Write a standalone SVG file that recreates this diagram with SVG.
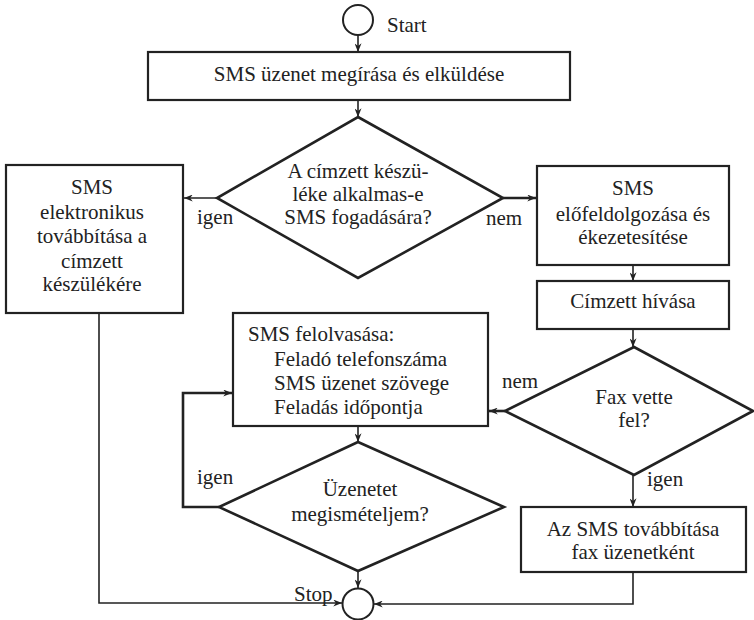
<svg xmlns="http://www.w3.org/2000/svg" width="754" height="620" viewBox="0 0 754 620">
<style>
  .box { fill: #fff; stroke: #222; stroke-width: 2.2; }
  .dia { fill: #fff; stroke: #222; stroke-width: 2.6; }
  .term { fill: #fff; stroke: #222; stroke-width: 2; }
  .t { font-family: "Liberation Serif", "Times New Roman", serif; font-size: 21px; fill: #222; }
  .c { text-anchor: middle; }
  .ln { fill: none; stroke: #222; stroke-width: 1.6; }
  .lnb { fill: none; stroke: #222; stroke-width: 2.6; }
</style>
<defs>
  <marker id="ah" viewBox="0 0 10 8" refX="10" refY="4" markerWidth="9" markerHeight="7" markerUnits="userSpaceOnUse" orient="auto">
    <path d="M0,0 L10,4 L0,8 L3,4 Z" fill="#222"/>
  </marker>
</defs>
<rect width="754" height="620" fill="#fff"/>

<g id="connectors">
  <line class="ln" x1="358" y1="35" x2="358" y2="52" marker-end="url(#ah)"/>
  <line class="ln" x1="358" y1="100" x2="358" y2="117" marker-end="url(#ah)"/>
  <line class="ln" x1="217" y1="198" x2="184" y2="198" marker-end="url(#ah)"/>
  <line class="lnb" x1="503" y1="198" x2="536" y2="198" marker-end="url(#ah)"/>
  <line class="ln" x1="633" y1="265" x2="633" y2="281" marker-end="url(#ah)"/>
  <line class="ln" x1="633" y1="329" x2="633" y2="347" marker-end="url(#ah)"/>
  <line class="lnb" x1="505" y1="411" x2="489" y2="411" marker-end="url(#ah)"/>
  <line class="ln" x1="633" y1="475" x2="633" y2="507" marker-end="url(#ah)"/>
  <line class="ln" x1="358" y1="426" x2="358" y2="442" marker-end="url(#ah)"/>
  <polyline class="lnb" points="219,507 183,507 183,393 232,393" marker-end="url(#ah)"/>
  <line class="ln" x1="358" y1="571" x2="358" y2="588" marker-end="url(#ah)"/>
  <polyline class="ln" points="99,297 99,603 342,603" marker-end="url(#ah)"/>
  <polyline class="ln" points="633,572 633,604 374,604" marker-end="url(#ah)"/>
  <text class="t" x="197" y="224">igen</text>
  <text class="t" x="486" y="225">nem</text>
  <text class="t" x="502" y="388">nem</text>
  <text class="t" x="647" y="486">igen</text>
  <text class="t" x="197" y="484">igen</text>
</g>

<g id="start">
  <circle class="term" cx="358" cy="20" r="15"/>
  <text class="t" x="387" y="32">Start</text>
</g>

<g id="write">
  <rect class="box" x="148" y="52" width="422" height="48"/>
  <text class="t c" x="359" y="81">SMS üzenet megírása és elküldése</text>
</g>

<g id="decision1">
  <polygon class="dia" points="358,117 503,198 358,278 217,198"/>
  <text class="t c" x="358" y="178">A címzett készü-</text>
  <text class="t c" x="358" y="201">léke alkalmas-e</text>
  <text class="t c" x="358" y="224">SMS fogadására?</text>
</g>

<g id="electronic">
  <rect class="box" x="6" y="165" width="177" height="148"/>
  <text class="t c" x="92" y="194">SMS</text>
  <text class="t c" x="92" y="219">elektronikus</text>
  <text class="t c" x="92" y="243">továbbítása a</text>
  <text class="t c" x="92" y="268">címzett</text>
  <text class="t c" x="92" y="291">készülékére</text>
</g>

<g id="preprocess">
  <rect class="box" x="537" y="166" width="192" height="99"/>
  <text class="t c" x="633" y="195">SMS</text>
  <text class="t c" x="633" y="221">előfeldolgozása és</text>
  <text class="t c" x="633" y="244">ékezetesítése</text>
</g>

<g id="call">
  <rect class="box" x="537" y="281" width="192" height="48"/>
  <text class="t c" x="633" y="308">Címzett hívása</text>
</g>

<g id="decision-fax">
  <polygon class="dia" points="634,347 753,411 634,475 505,411"/>
  <text class="t c" x="634" y="404">Fax vette</text>
  <text class="t c" x="634" y="427">fel?</text>
</g>

<g id="readout">
  <rect class="box" x="233" y="313" width="255" height="113"/>
  <text class="t" x="248" y="341">SMS felolvasása:</text>
  <text class="t" x="274" y="366">Feladó telefonszáma</text>
  <text class="t" x="274" y="390">SMS üzenet szövege</text>
  <text class="t" x="274" y="414">Feladás időpontja</text>
</g>

<g id="decision-repeat">
  <polygon class="dia" points="358,442 504,507 358,571 219,507"/>
  <text class="t c" x="360" y="496">Üzenetet</text>
  <text class="t c" x="360" y="521">megismételjem?</text>
</g>

<g id="fax">
  <rect class="box" x="521" y="507" width="225" height="65"/>
  <text class="t c" x="633" y="536">Az SMS továbbítása</text>
  <text class="t c" x="633" y="559">fax üzenetként</text>
</g>

<g id="stop">
  <circle class="term" cx="358" cy="604" r="15.5"/>
  <text class="t" x="294" y="601">Stop</text>
</g>
</svg>
